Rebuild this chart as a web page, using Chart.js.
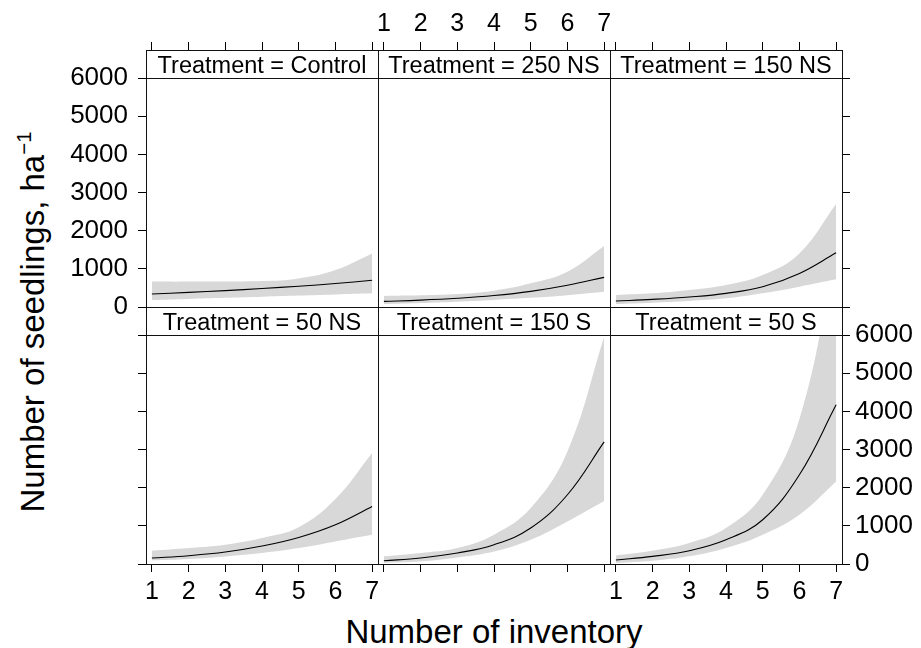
<!DOCTYPE html>
<html>
<head>
<meta charset="utf-8">
<title>Number of seedlings by inventory and treatment</title>
<script src="https://cdn.jsdelivr.net/npm/chart.js@4.4.1/dist/chart.umd.min.js"></script>
<style>
  body { margin: 0; background: #fff; }
  #fig { position: relative; width: 921px; height: 648px; overflow: hidden;
         font-family: 'Liberation Sans', Arial, Helvetica, sans-serif; color: #000; }
  #fig canvas { position: absolute; left: 0; top: 0; }
  .axis-title { position: absolute; font-size: 33px; line-height: 1; white-space: nowrap; }
  #xlab { left: 294px; width: 400px; top: 615px; text-align: center; }
  #ylab { left: 32px; top: 322px; transform: translate(-50%, -50%) rotate(-90deg); }
  #ylab .sup { font-size: 0.62em; vertical-align: 0.6em; line-height: 0; }
</style>
</head>
<body>
<div id="fig">
  <div id="xlab" class="axis-title">Number of inventory</div>
  <div id="ylab" class="axis-title">Number of seedlings, ha<span class="sup">&minus;1</span></div>
</div>
<script>
// x: inventory number, y: seedlings per ha
const inventory = [1, 2, 3, 4, 5, 6, 7];
const countTicks = [0, 1000, 2000, 3000, 4000, 5000, 6000];
const treatments = ['Control', '250 NS', '150 NS', '50 NS', '150 S', '50 S'];

// fitted curve and lower / upper limits of the band, per treatment
const fitControl = [340, 383, 430, 485, 545, 615, 700];
const lowControl = [183, 210, 240, 270, 300, 330, 360];
const highControl = [665, 665, 670, 680, 750, 970, 1405];

const fit250NS = [148, 180, 228, 300, 410, 570, 777];
const low250NS = [78, 105, 140, 185, 240, 310, 400];
const high250NS = [290, 305, 340, 427, 620, 925, 1597];

const fit150NS = [157, 200, 262, 358, 530, 880, 1420];
const low150NS = [78, 113, 157, 227, 358, 532, 724];
const high150NS = [314, 358, 445, 576, 838, 1405, 2696];

const fit50NS = [157, 217, 313, 470, 696, 1029, 1508];
const low50NS = [95, 130, 199, 288, 418, 592, 767];
const high50NS = [348, 418, 505, 680, 960, 1700, 2906];

const fit150S = [86, 157, 288, 505, 942, 1814, 3200];
const low150S = [34, 68, 173, 330, 636, 1115, 1650];
const high150S = [200, 288, 418, 767, 1466, 2950, 5950];

const fit50S = [104, 200, 348, 636, 1160, 2338, 4170];
const low50S = [26, 86, 200, 418, 767, 1290, 2162];
const high50S = [226, 348, 550, 942, 1814, 3800, 8200];

const fits = [fitControl, fit250NS, fit150NS, fit50NS, fit150S, fit50S];
const lows = [lowControl, low250NS, low150NS, low50NS, low150S, low50S];
const highs = [highControl, high250NS, high150NS, high50NS, high150S, high50S];

// page layout (3 x 2 panels with strips)
const PAGE_W = 921, PAGE_H = 648;
const colEdges = [146, 378, 610, 842];
const rowTops = [78, 335];
const panelH = 229;
const stripH = 28;
const AXW = 79;              // width kept for a vertical axis
const AXB = 50;              // height kept for the bottom axis
const AXT = stripH + 48;     // top axis sits above the strip
const FONT = "'Liberation Sans', Arial, Helvetica, sans-serif";
const bandColor = '#d8d8d8';

const fig = document.getElementById('fig');

function pts(values) {
  return inventory.map((x, k) => ({ x: x, y: values[k] }));
}

// top axis is drawn above the strip, not against the panel
const liftTopAxis = {
  id: 'liftTopAxis',
  afterLayout(chart) {
    const s = chart.scales.xTop;
    if (s && s.options.display) {
      s.top -= stripH;
      s.bottom -= stripH;
    }
  }
};

// panel box and strip with its label
const panelFrame = {
  id: 'panelFrame',
  afterDraw(chart, args, opts) {
    const { ctx, chartArea: a } = chart;
    const w = a.right - a.left, h = a.bottom - a.top;
    ctx.save();
    ctx.strokeStyle = '#111';
    ctx.lineWidth = 1;
    ctx.strokeRect(a.left + 0.5, a.top + 0.5, w, h);
    ctx.strokeRect(a.left + 0.5, a.top - stripH + 0.5, w, stripH);
    ctx.fillStyle = '#000';
    ctx.font = '23.5px ' + FONT;
    ctx.textAlign = 'center';
    ctx.textBaseline = 'alphabetic';
    ctx.fillText(opts.label, (a.left + a.right) / 2, a.top - stripH + 22.5);
    ctx.restore();
  }
};

function axisX(position, show, labels, padding) {
  return {
    type: 'linear',
    position: position,
    axis: 'x',
    display: show,
    min: 0.84,
    max: 7.16,
    afterBuildTicks: s => { s.ticks = inventory.map(v => ({ value: v })); },
    afterFit: s => { if (show) s.height = position === 'top' ? AXT : AXB; },
    grid: { drawOnChartArea: false, drawTicks: true, tickLength: 8, color: '#000', lineWidth: 1 },
    border: { display: false },
    ticks: {
      display: labels, color: '#000', font: { family: FONT, size: 25 },
      padding: padding, maxRotation: 0, autoSkip: false, callback: v => String(v)
    }
  };
}

function axisY(position, show, labels) {
  return {
    type: 'linear',
    position: position,
    axis: 'y',
    display: show,
    min: 0,
    max: 6000,
    afterBuildTicks: s => { s.ticks = countTicks.map(v => ({ value: v })); },
    afterFit: s => { if (show) s.width = AXW; },
    grid: { drawOnChartArea: false, drawTicks: true, tickLength: 8, color: '#000', lineWidth: 1 },
    border: { display: false },
    ticks: {
      display: labels, color: '#000', font: { family: FONT, size: 26 },
      padding: position === 'left' ? 10 : 5, autoSkip: false, callback: v => String(v)
    }
  };
}

function makePanel(i) {
  const r = Math.floor(i / 3), c = i % 3;
  const left = colEdges[c], right = colEdges[c + 1];
  const top = rowTops[r], bottom = top + panelH;
  const hasL = c === 0, hasR = c === 2, hasT = r === 0, hasB = r === 1;

  const canvas = document.createElement('canvas');
  canvas.width = PAGE_W;
  canvas.height = PAGE_H;
  fig.appendChild(canvas);

  const curve = { pointRadius: 0, tension: 0.4 };

  new Chart(canvas, {
    type: 'line',
    data: {
      datasets: [
        // order: lower numbers are painted last, so the fitted line stays on top
        { ...curve, data: pts(lows[i]), order: 2, borderWidth: 0, borderColor: 'rgba(0,0,0,0)', fill: false },
        { ...curve, data: pts(highs[i]), order: 1, borderWidth: 0, borderColor: 'rgba(0,0,0,0)',
          fill: '-1', backgroundColor: bandColor },
        { ...curve, data: pts(fits[i]), order: 0, borderWidth: 1.1, borderColor: '#000', fill: false }
      ]
    },
    options: {
      responsive: false,
      animation: false,
      events: [],
      layout: {
        padding: {
          left: left - (hasL ? AXW : 0),
          right: PAGE_W - right - (hasR ? AXW : 0),
          top: top - (hasT ? AXT : 0),
          bottom: PAGE_H - bottom - (hasB ? AXB : 0)
        }
      },
      plugins: {
        legend: { display: false },
        tooltip: { enabled: false },
        panelFrame: { label: 'Treatment = ' + treatments[i] }
      },
      scales: {
        x: axisX('bottom', hasB, c !== 1, 5),
        xTop: axisX('top', hasT, c === 1, 3),
        y: axisY('left', hasL, r === 0),
        yRight: axisY('right', hasR, r === 1)
      }
    },
    plugins: [liftTopAxis, panelFrame]
  });
}

window.onload = function () {
  for (let i = 0; i < treatments.length; i++) makePanel(i);
};
</script>
</body>
</html>
